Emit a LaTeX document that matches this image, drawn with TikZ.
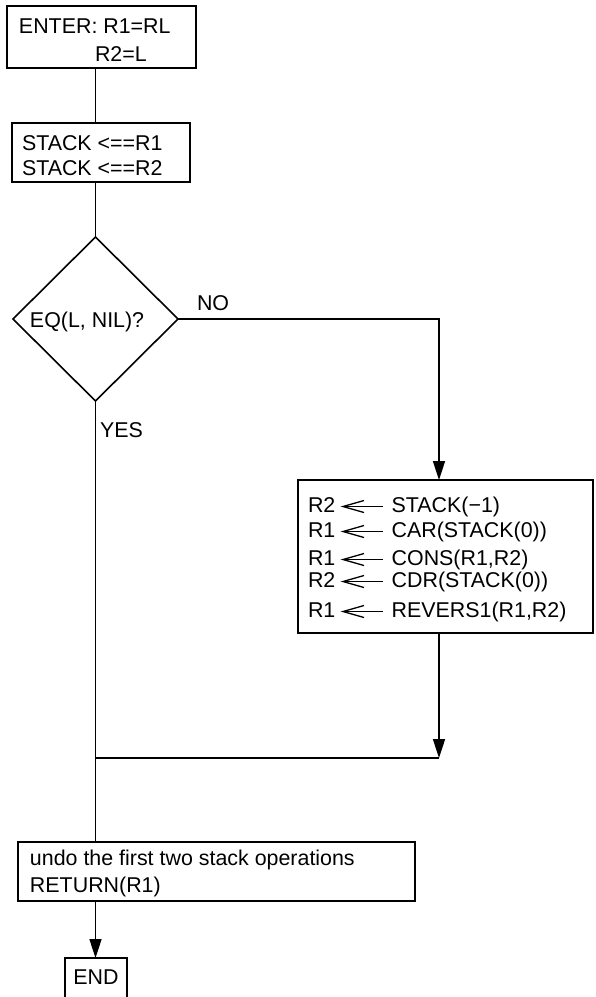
\documentclass[tikz,border=0pt]{standalone}
\usepackage{fontspec}
\setmainfont{Liberation Sans}
\usetikzlibrary{shapes.geometric,arrows.meta}
\newcommand{\larr}{\tikz[baseline=0pt,x=1pt,y=1pt]{\draw[line width=1.3pt] (0,5.5) -- (40,5.5); \draw[line width=1.3pt] (21,11.5) -- (0,5.5) -- (21,-0.5);}}
\tikzset{
  box/.style={draw, line width=1.6pt, rectangle, inner sep=0pt, outer sep=0pt},
  txt/.style={anchor=base west, inner sep=0pt, outer sep=0pt, font=\fontsize{21.4}{25}\selectfont},
  conn/.style={line width=1.6pt},
  arr/.style={line width=1.6pt, -{Triangle[length=19pt,width=12pt]}}
}
\begin{document}
\begin{tikzpicture}[x=1pt,y=-1pt]
\useasboundingbox (0,0) rectangle (595,997);
% boxes
\node[box, minimum width=189pt, minimum height=62pt] (enter) at (101.5,37) {};
\node[box, minimum width=178pt, minimum height=59pt] (push) at (101,152.5) {};
\node[draw, line width=1.6pt, diamond, inner sep=0pt, outer sep=0pt, minimum width=165pt, minimum height=164pt] (dia) at (95.5,319) {};
\node[box, minimum width=295pt, minimum height=153pt] (rbox) at (445.5,556.5) {};
\node[box, minimum width=397pt, minimum height=59pt] (bbox) at (216.5,871.5) {};
\node[inner sep=0pt, outer sep=0pt, minimum width=62pt, minimum height=39pt] (endn) at (96,977.5) {};
% texts
\node[txt] (t1) at (19,33) {ENTER: R1=RL};
\node[txt] (t2) at (95,61) {R2=L};
\node[txt] (t3) at (22,150) {STACK <==R1};
\node[txt] (t4) at (22,175) {STACK <==R2};
\node[txt] (t5) at (30,327) {EQ(L, NIL)?};
\node[txt] (no) at (197,310) {NO};
\node[txt] (yes) at (100,437) {YES};
\node[txt] (r1) at (308,512) {R2\hspace{7pt}\larr\hspace{8pt}STACK(−1)};
\node[txt] (r2) at (308,537) {R1\hspace{7pt}\larr\hspace{8pt}CAR(STACK(0))};
\node[txt] (r3) at (308,565) {R1\hspace{7pt}\larr\hspace{8pt}CONS(R1,R2)};
\node[txt] (r4) at (308,587) {R2\hspace{7pt}\larr\hspace{8pt}CDR(STACK(0))};
\node[txt] (r5) at (308,617) {R1\hspace{7pt}\larr\hspace{8pt}REVERS1(R1,R2)};
\node[txt] (b1) at (30,865) {undo the first two stack operations};
\node[txt] (b2) at (30,892) {RETURN(R1)};
\node[txt, anchor=center] (endt) at (endn.center) {END};
% END open box
\draw[conn] (endn.south west) -- (endn.north west) -- (endn.north east) -- (endn.south east);
% connectors
\coordinate (colx) at (439,0);
\coordinate (join) at (95,758);
\draw[conn] (enter.south -| dia.north) -- (push.north -| dia.north);
\draw[conn] (push.south -| dia.north) -- (dia.north);
\draw[arr] (dia.east) -| (rbox.north -| colx);
\draw[arr] (rbox.south -| colx) -- (join -| colx);
\draw[conn] (join -| colx) -- (join);
\draw[conn] (dia.south) -- (bbox.north -| dia.south);
\draw[arr] (bbox.south -| dia.south) -- (endn.north -| dia.south);
\end{tikzpicture}
\end{document}
